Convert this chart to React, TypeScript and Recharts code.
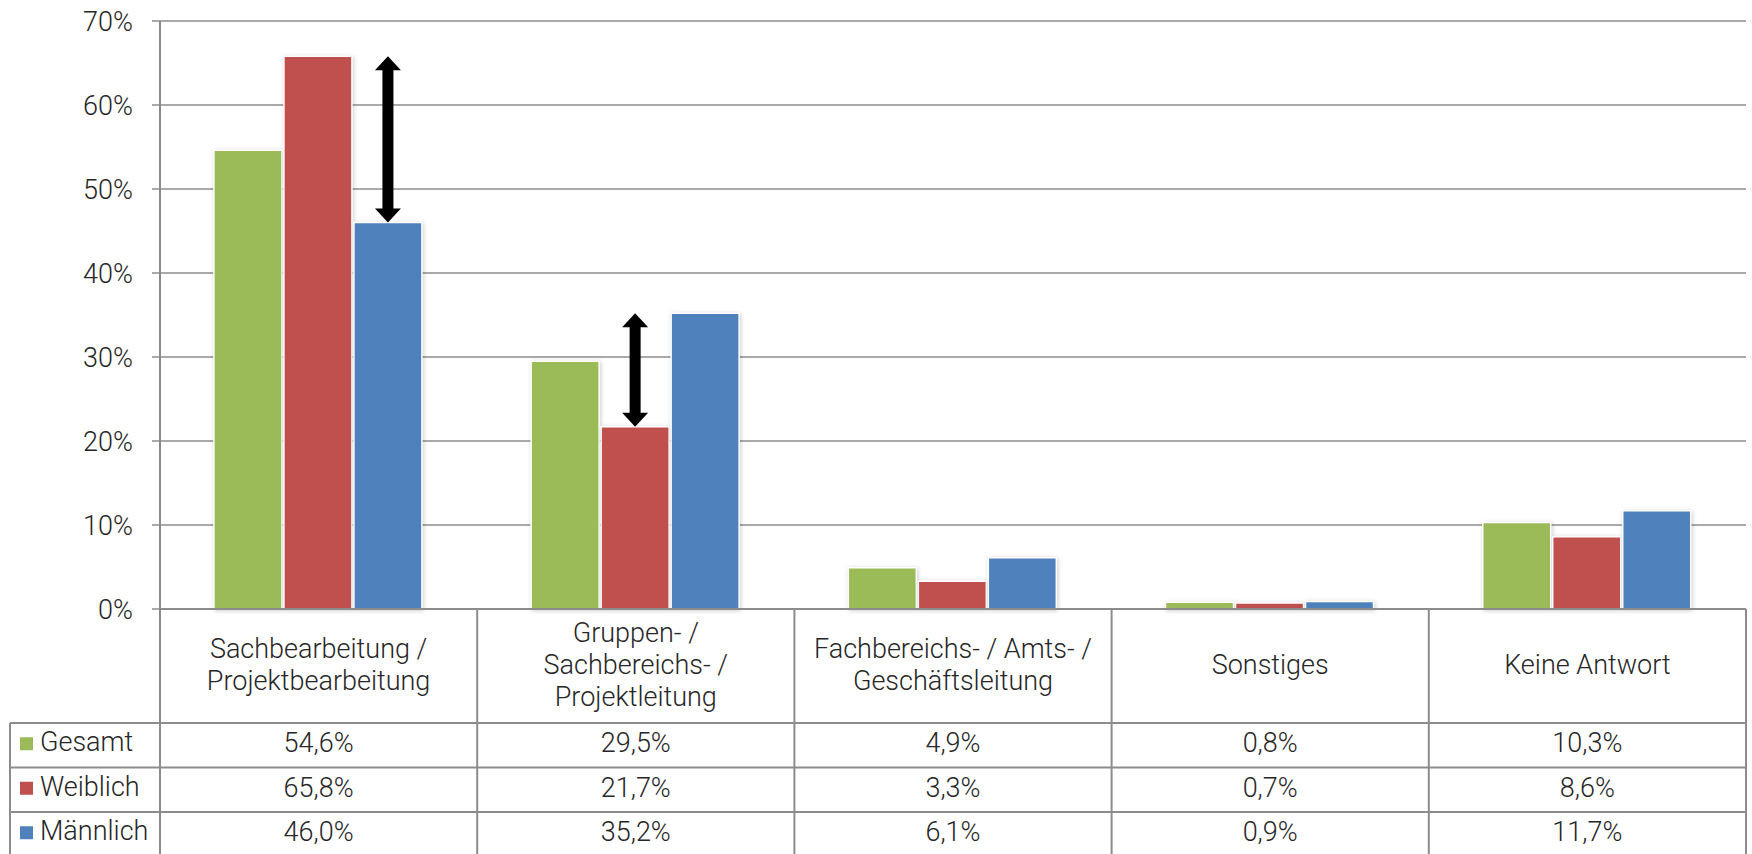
import React from 'react';
import { BarChart, Bar, XAxis, YAxis, CartesianGrid, Rectangle } from 'recharts';

const categories = [
  'Sachbearbeitung /\nProjektbearbeitung',
  'Gruppen- /\nSachbereichs- /\nProjektleitung',
  'Fachbereichs- / Amts- /\nGeschäftsleitung',
  'Sonstiges',
  'Keine Antwort',
];
const gesamt = [54.6, 29.5, 4.9, 0.8, 10.3];
const weiblich = [65.8, 21.7, 3.3, 0.7, 8.6];
const maennlich = [46.0, 35.2, 6.1, 0.9, 11.7];
const yTicks = [0, 10, 20, 30, 40, 50, 60, 70];

const series = [
  { key: 'gesamt', name: 'Gesamt', color: '#9BBB59', values: gesamt },
  { key: 'weiblich', name: 'Weiblich', color: '#C0504D', values: weiblich },
  { key: 'maennlich', name: 'Männlich', color: '#4F81BD', values: maennlich },
];

// arrows: drawn over the "host" bar, spanning between the two series values
const arrows = [
  { index: 0, host: 'maennlich', from: 'weiblich', to: 'maennlich' },
  { index: 1, host: 'weiblich', from: 'maennlich', to: 'weiblich' },
];

const data = categories.map((c, i) => ({
  name: c,
  gesamt: gesamt[i],
  weiblich: weiblich[i],
  maennlich: maennlich[i],
}));

const W = 1752;
const H = 854;
const Y_AXIS_W = 160;
const RIGHT = 6;
const TOP = 21;
const X_AXIS_H = 245;
const HEADER_H = 114;
const ROW_H = 44.5;
const LEGEND_LEFT = 10;
const FONT = 'Roboto, "Open Sans", sans-serif';
const FS = 27;
const LINE = '#8c8c8c';
const TEXT = '#262626';

const colW = (W - Y_AXIS_W - RIGHT) / categories.length;
const fmt = (v: number) => v.toFixed(1).replace('.', ',') + '%';

const Arrow = ({ cx, y1, y2 }: { cx: number; y1: number; y2: number }) => {
  const top = Math.min(y1, y2);
  const bot = Math.max(y1, y2);
  const hh = 14;
  const hw = 13;
  const sw = 5.5;
  const d = `M${cx},${top} L${cx + hw},${top + hh} L${cx + sw},${top + hh} L${cx + sw},${bot - hh} L${cx + hw},${bot - hh} L${cx},${bot} L${cx - hw},${bot - hh} L${cx - sw},${bot - hh} L${cx - sw},${top + hh} L${cx - hw},${top + hh} Z`;
  return <path d={d} fill="#000" />;
};

const makeShape = (key: string) => (props: any) => {
  const { x, y, width, height, index, fill } = props;
  const arrow = arrows.find((a) => a.host === key && a.index === index);
  const hostVal = data[index][key as 'gesamt'];
  const pxPer = height / hostVal;
  const base = y + height;
  return (
    <g>
      <g style={{ filter: 'drop-shadow(1px 1px 2px rgba(0,0,0,0.2))' }}>
        <Rectangle x={x} y={y} width={width} height={height} fill={fill} stroke="#fff" strokeWidth={1.5} />
      </g>
      {arrow && (
        <Arrow
          cx={x + width / 2}
          y1={base - data[index][arrow.from as 'gesamt'] * pxPer}
          y2={base - data[index][arrow.to as 'gesamt'] * pxPer}
        />
      )}
    </g>
  );
};

const TableColumn = (props: any) => {
  const { x, y, index } = props;
  const left = x - colW / 2;
  const right = x + colW / 2;
  const lines = categories[index].split('\n');
  const lh = 32;
  const headMid = y + HEADER_H / 2 - 1;
  const rowsTop = y + HEADER_H;
  const bottom = y + X_AXIS_H + 5;
  return (
    <g fontFamily={FONT} fontWeight={300} fontSize={FS} fill={TEXT}>
      {index === 0 && <line x1={left} y1={y} x2={left} y2={bottom} stroke={LINE} strokeWidth={2} />}
      <line x1={right} y1={y} x2={right} y2={bottom} stroke={LINE} strokeWidth={2} />
      {lines.map((l, i) => (
        <text key={i} x={x} y={headMid + (i - (lines.length - 1) / 2) * lh} textAnchor="middle" dominantBaseline="central">
          {l}
        </text>
      ))}
      {series.map((s, r) => (
        <g key={s.key}>
          <line x1={index === 0 ? LEGEND_LEFT : left} y1={rowsTop + r * ROW_H} x2={right} y2={rowsTop + r * ROW_H} stroke={LINE} strokeWidth={2} />
          <text x={x} y={rowsTop + r * ROW_H + ROW_H / 2 - 2} textAnchor="middle" dominantBaseline="central">
            {fmt(s.values[index])}
          </text>
          {index === 0 && (
            <g>
              <rect x={20} y={rowsTop + r * ROW_H + ROW_H / 2 - 8} width={13} height={13} fill={s.color} />
              <text x={40} y={rowsTop + r * ROW_H + ROW_H / 2 - 3} dominantBaseline="central">
                {s.name}
              </text>
            </g>
          )}
        </g>
      ))}
      {index === 0 && <line x1={LEGEND_LEFT} y1={rowsTop} x2={LEGEND_LEFT} y2={bottom} stroke={LINE} strokeWidth={2} />}
    </g>
  );
};

export default function App() {
  return (
    <div style={{ position: 'absolute', left: 0, top: 0, width: W, height: H, background: '#fff' }}>
      <BarChart
        width={W}
        height={H}
        data={data}
        margin={{ top: TOP, right: RIGHT, left: 0, bottom: 0 }}
        barCategoryGap="17%"
        barGap={2}
      >
        <CartesianGrid horizontal vertical={false} stroke={LINE} strokeWidth={1.5} />
        <YAxis
          width={Y_AXIS_W}
          domain={[0, 70]}
          ticks={yTicks}
          interval={0}
          tickFormatter={(v) => `${v}%`}
          axisLine={{ stroke: LINE, strokeWidth: 2 }}
          tickLine={{ stroke: LINE, strokeWidth: 1.5 }}
          tickSize={8}
          tickMargin={19}
          tick={{ fontFamily: FONT, fontWeight: 300, fontSize: FS, fill: TEXT }}
        />
        <XAxis
          dataKey="name"
          height={X_AXIS_H}
          interval={0}
          tickLine={false}
          tickSize={0}
          tickMargin={0}
          axisLine={{ stroke: LINE, strokeWidth: 2 }}
          tick={<TableColumn />}
        />
        {series.map((s) => (
          <Bar
            key={s.key}
            dataKey={s.key}
            name={s.name}
            fill={s.color}
            isAnimationActive={false}
            shape={makeShape(s.key)}
          />
        ))}
      </BarChart>
    </div>
  );
}
